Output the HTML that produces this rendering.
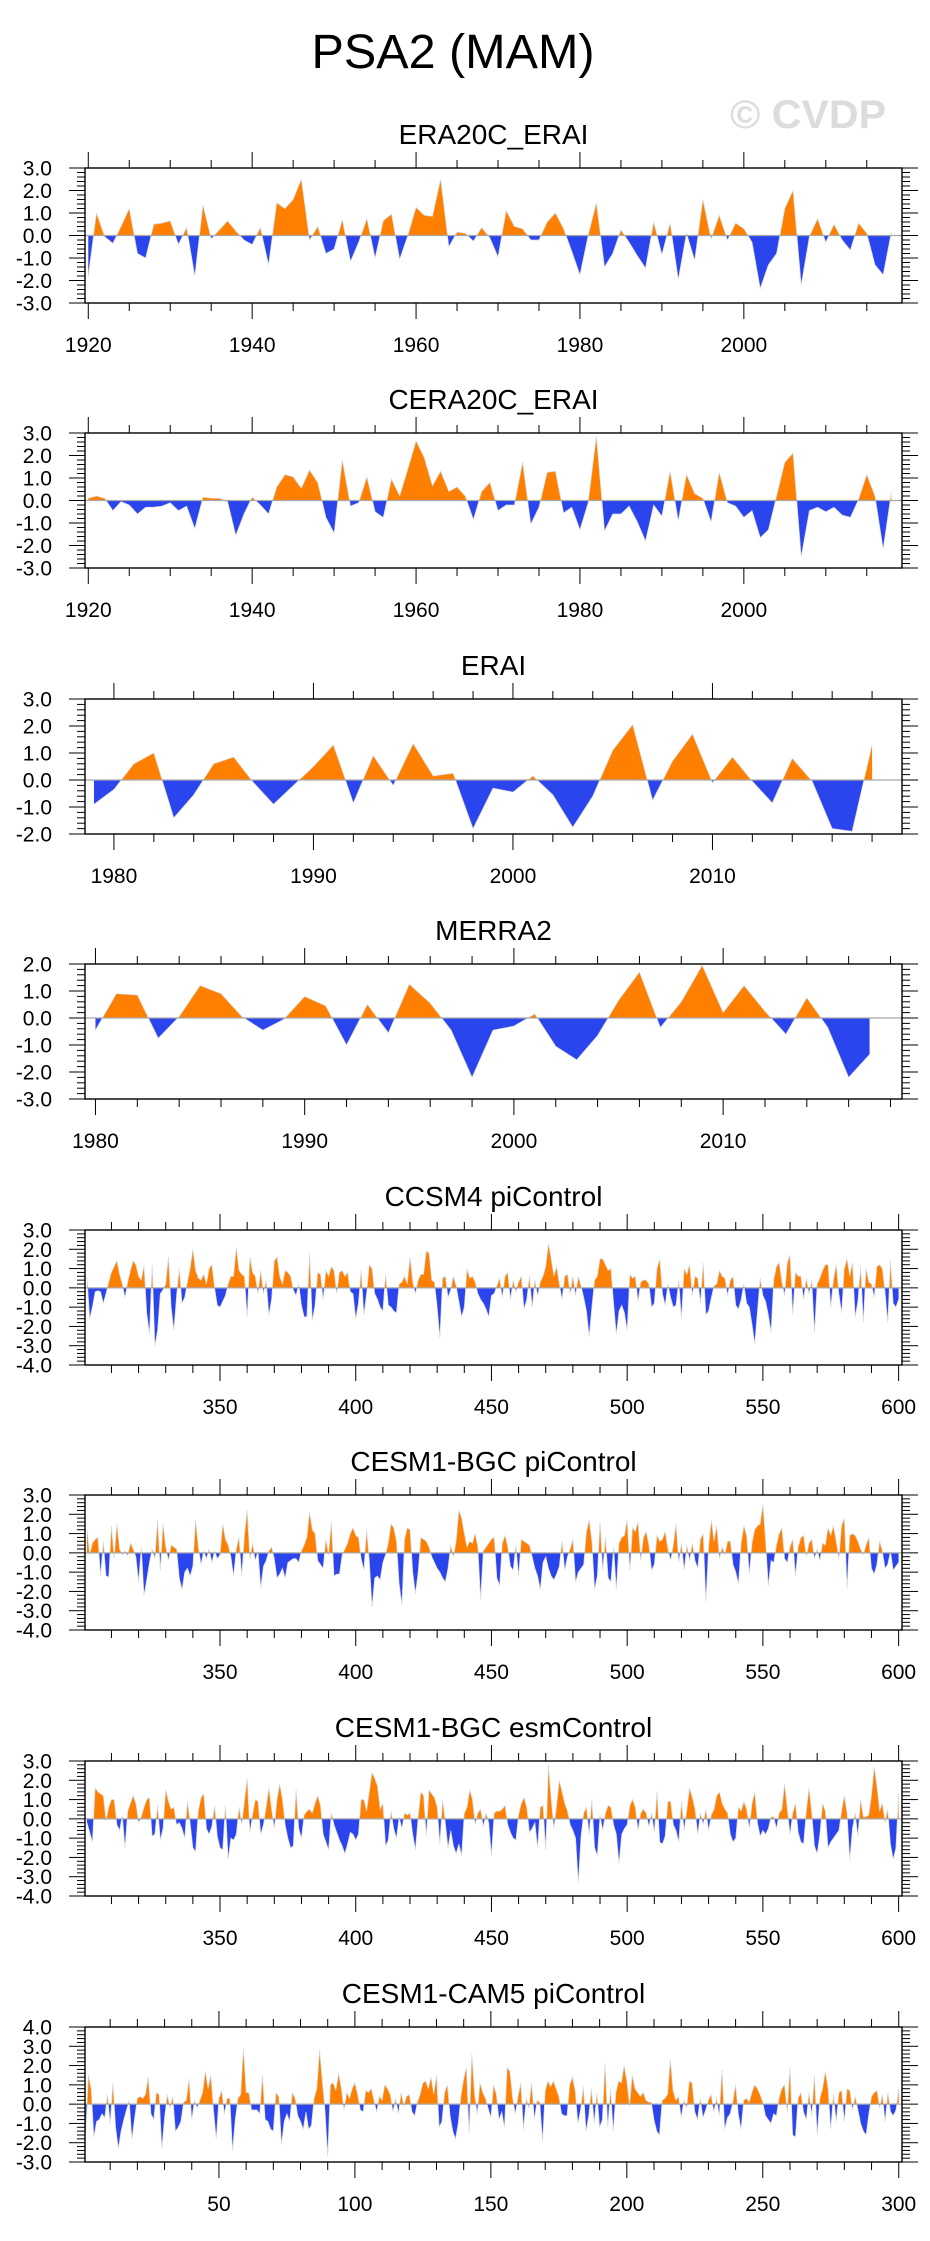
<!DOCTYPE html>
<html><head><meta charset="utf-8">
<style>
html,body{margin:0;padding:0;background:#fff;}
svg{display:block;font-family:"Liberation Sans",sans-serif;}
</style></head>
<body>
<svg id="fig" width="930" height="2241" viewBox="0 0 930 2241" xmlns="http://www.w3.org/2000/svg">
<rect x="0" y="0" width="930" height="2241" fill="#fff"/>
<text x="453" y="68" font-size="48" text-anchor="middle" textLength="283" lengthAdjust="spacingAndGlyphs">PSA2 (MAM)</text>
<text x="808" y="128" font-size="40" font-weight="bold" fill="#dcdcdc" text-anchor="middle" textLength="156" lengthAdjust="spacingAndGlyphs">© CVDP</text>
</svg>
<script>
// ---- data ----
const era20cYears = [1920, 2018];
const era20cValues = [-1.8,1.0,-0.05,-0.35,0.4,1.2,-0.8,-1.0,0.5,0.55,0.65,-0.4,0.35,-1.8,1.35,-0.15,0.25,0.65,0.2,-0.2,-0.4,0.35,-1.3,1.45,1.2,1.6,2.5,-0.2,0.4,-0.8,-0.6,0.7,-1.15,-0.3,0.75,-1.0,0.65,0.95,-1.05,0.0,1.25,0.9,0.85,2.5,-0.5,0.15,0.1,-0.25,0.35,-0.1,-0.95,1.1,0.4,0.3,-0.2,-0.2,0.6,1.0,0.3,-0.7,-1.75,0.0,1.45,-1.4,-0.8,0.25,-0.3,-0.9,-1.45,0.6,-0.85,0.55,-1.95,0.1,-1.1,1.6,-0.15,0.9,-0.2,0.55,0.3,-0.3,-2.35,-1.3,-0.8,1.2,2.0,-2.2,-0.05,0.75,-0.3,0.5,-0.2,-0.65,0.55,0.1,-1.3,-1.75,0.15];
const cera20cYears = [1920, 2018];
const cera20cValues = [0.1,0.2,0.1,-0.45,-0.05,-0.2,-0.6,-0.3,-0.3,-0.25,-0.1,-0.45,-0.25,-1.25,0.15,0.1,0.1,-0.05,-1.55,-0.6,0.15,-0.2,-0.6,0.6,1.15,1.05,0.55,1.35,0.8,-0.75,-1.45,1.8,-0.25,-0.1,1.05,-0.5,-0.75,0.95,0.2,1.4,2.65,1.9,0.65,1.3,0.4,0.6,0.2,-0.85,0.4,0.8,-0.45,-0.2,-0.2,1.7,-1.05,-0.3,1.25,1.3,-0.55,-0.3,-1.3,-0.1,2.85,-1.35,-0.6,-0.6,-0.25,-0.95,-1.8,-0.2,-0.7,1.3,-0.9,1.15,0.3,0.1,-0.95,1.25,-0.1,-0.25,-0.75,-0.45,-1.65,-1.3,0.2,1.7,2.1,-2.5,-0.45,-0.3,-0.5,-0.3,-0.65,-0.75,0.05,1.15,0.2,-2.15,0.35];
const eraiYears = [1979, 2018];
const eraiValues = [-0.9,-0.35,0.6,1.0,-1.4,-0.55,0.6,0.85,-0.1,-0.9,-0.2,0.5,1.3,-0.85,0.9,-0.2,1.35,0.15,0.25,-1.8,-0.3,-0.45,0.15,-0.55,-1.75,-0.6,1.1,2.05,-0.75,0.7,1.7,-0.1,0.85,-0.05,-0.85,0.8,-0.05,-1.8,-1.9,1.3];
const merra2Years = [1980, 2017];
const merra2Values = [-0.45,0.9,0.85,-0.75,0.05,1.2,0.9,0.05,-0.45,-0.05,0.8,0.45,-1.0,0.5,-0.55,1.25,0.55,-0.45,-2.2,-0.45,-0.3,0.15,-1.05,-1.55,-0.65,0.65,1.7,-0.35,0.6,1.95,0.2,1.2,0.25,-0.6,0.75,-0.35,-2.2,-1.35];
const ccsm4Years = [301, 600];
const ccsm4Values = [0.55,-1.6,-1.0,-0.2,-0.15,-0.2,-0.8,-0.3,0.3,0.8,
1.1,1.4,0.7,0.2,-0.5,0.3,0.9,1.4,1.2,0.6,
0.4,1.15,-1.3,-2.4,1.2,-3.0,-2.2,-0.3,-0.1,0.2,
1.6,-1.0,-2.2,-0.4,1.0,-0.8,-0.5,0.3,1.0,2.0,
0.9,0.5,0.4,0.7,0.2,1.0,1.2,0.0,-0.9,-1.0,
-0.7,-0.4,0.2,0.6,0.6,2.1,0.9,0.7,0.6,-1.5,
1.6,0.8,0.6,-0.3,0.9,-0.3,0.4,-1.4,-0.6,1.4,
1.6,0.6,0.2,0.9,0.8,0.6,-0.1,-0.4,0.2,-0.9,
-1.5,-1.5,1.8,-1.7,-0.9,0.8,0.7,-0.6,0.9,0.6,
1.1,0.9,-0.3,0.8,0.9,0.6,0.8,-0.2,-0.3,-1.6,
-0.8,0.9,-1.4,-0.3,1.2,1.0,-0.3,-0.6,-1.0,-1.2,
0.7,-0.9,-1.0,-1.2,-1.3,0.2,0.3,0.6,0.2,1.6,
0.3,-0.3,0.4,0.7,0.7,1.9,1.8,0.4,0.3,-1.0,
-2.6,0.5,0.6,-0.5,-0.1,0.6,0.1,-0.7,-1.5,-1.0,
1.0,0.5,0.6,0.3,-0.3,-0.6,-0.8,-1.1,-1.5,-0.4,
-0.3,0.1,0.5,-0.5,0.6,0.8,-0.6,0.4,-0.2,0.3,
0.6,-1.1,-0.6,0.6,-1.0,0.4,-0.4,0.3,0.6,1.1,
2.3,1.5,0.6,1.1,0.2,-0.6,0.6,0.7,-0.3,0.6,
-0.4,0.6,0.1,-0.5,-1.2,-2.5,-1.0,0.4,0.6,1.5,
1.5,1.2,0.9,1.0,-0.8,-2.4,-1.2,-0.9,-1.3,-2.2,
0.7,0.5,0.6,-0.7,0.3,0.4,0.4,0.2,-1.0,-0.8,
1.0,1.5,-0.3,-0.9,0.2,-0.5,-1.0,-0.9,0.4,-1.6,
1.0,0.7,1.2,-0.4,0.6,0.5,-0.8,1.3,-1.4,-1.2,
-0.5,0.1,0.2,0.9,0.6,0.5,-0.4,0.4,0.6,-0.9,
-1.1,-0.6,0.2,-0.8,-1.0,-1.9,-2.9,-1.2,0.5,-0.4,
-0.7,-1.4,-2.3,0.4,1.1,1.3,0.3,-0.4,1.3,1.7,
-1.4,0.8,0.6,0.6,-0.6,0.5,-0.3,0.4,-2.3,0.2,
0.5,0.9,1.2,1.2,-1.0,0.4,1.2,-0.3,-1.3,1.0,
1.5,0.6,1.3,-1.5,-0.7,1.1,-1.8,1.0,0.3,0.2,
-0.5,1.1,1.2,1.0,-0.2,-1.8,1.4,-0.8,-1.0,-0.6];
const bgcPiYears = [301, 600];
const bgcPiValues = [1.2,-0.1,0.5,0.7,0.8,-1.2,0.6,-1.2,-1.25,1.4,
-0.3,1.5,0.2,-0.1,0.1,-0.15,0.5,0.2,-0.2,-1.5,
0.3,-2.2,-1.4,-0.5,0.2,-0.3,1.7,-0.9,1.5,0.3,
-0.4,0.4,0.3,0.2,-1.3,-1.9,-1.0,-0.8,-1.2,-0.7,
1.7,0.3,-0.6,0.1,-0.3,0.2,-0.5,0.1,-0.3,-0.1,
1.5,0.7,0.4,-0.2,-1.2,0.2,0.8,-1.2,0.9,2.2,
-0.3,0.5,-0.4,0.1,-1.8,-0.7,-0.4,0.1,0.3,-0.3,
-1.3,-1.1,-0.8,-1.3,-0.5,-0.4,-0.3,-0.3,-0.5,0.1,
0.4,0.8,2.1,1.2,1.0,-0.4,-0.6,-0.8,0.7,-0.1,
1.6,-1.2,-1.1,-1.1,-0.1,0.2,0.5,1.0,1.3,0.9,
0.8,-0.3,-0.9,1.2,-0.4,-2.8,-1.3,-1.2,-1.4,-0.5,
-0.1,0.5,1.5,1.3,0.6,-1.6,-2.7,0.7,1.3,1.2,
-1.0,-2.1,-1.0,0.8,0.7,0.6,0.3,-0.2,-0.5,-0.8,
-1.0,-1.3,-1.5,-0.8,0.4,-0.2,0.6,2.2,1.8,1.0,
0.3,0.6,0.5,1.0,0.3,-2.4,0.1,0.3,0.5,0.7,
0.8,-1.3,-1.7,0.5,0.9,0.3,-0.7,-0.9,0.4,-1.2,
0.7,0.6,0.5,0.4,-0.2,-0.8,-1.2,-1.9,-0.5,-0.2,
-0.8,-1.2,-1.4,-1.1,-0.7,0.6,-0.9,-0.2,0.2,0.7,
-1.5,-1.0,-0.8,-0.6,1.1,1.7,0.6,-1.9,-1.2,1.6,
-0.9,0.8,-1.3,-1.5,0.3,-1.9,0.5,0.8,0.9,1.7,
-0.9,1.3,1.1,1.6,-0.4,0.8,1.1,0.4,-0.9,-0.6,
0.9,0.6,0.7,1.1,0.2,-0.4,0.4,1.5,-0.5,0.5,
-0.9,0.4,-0.4,0.5,-0.4,-0.8,0.7,1.0,-2.5,0.3,
1.7,0.6,1.4,-0.3,0.3,-0.1,0.6,0.6,-0.6,-1.0,
-1.6,0.5,1.4,0.9,-1.1,0.5,1.2,1.4,1.5,2.5,
0.6,-1.7,-0.4,-0.5,0.4,1.0,1.3,-0.3,-0.5,0.3,
0.7,-1.2,0.3,0.8,0.9,-0.2,0.5,0.7,-0.3,0.2,
-0.4,0.5,0.4,1.3,0.9,1.4,0.6,-0.3,1.4,1.8,
-1.8,0.9,1.0,0.9,0.6,0.2,-0.1,0.4,0.8,-0.8,
-1.1,-0.6,0.6,0.1,-0.8,-0.6,0.1,-0.9,-0.7,-0.5];
const bgcEsmYears = [301, 600];
const bgcEsmValues = [-0.2,-0.7,-1.2,1.6,1.4,1.3,1.2,-0.1,0.6,1.0,
1.0,-0.3,-0.6,0.2,-1.5,0.4,0.8,1.2,0.8,-0.2,
0.1,0.6,1.0,1.1,-0.9,-0.8,0.7,-1.1,-0.5,1.5,
0.9,0.5,0.6,-0.3,-0.2,-0.5,-1.0,0.9,-0.2,-1.5,
-1.7,0.4,1.1,1.3,-0.5,-0.8,-0.4,0.7,-0.9,-1.5,
-1.6,0.7,-2.1,-1.0,-1.1,-0.8,0.6,-0.3,0.9,2.1,
-0.7,0.2,1.0,0.9,-0.8,-0.3,0.6,1.6,0.5,-0.5,
1.0,1.8,1.0,-0.3,-1.0,-1.5,-1.4,1.5,-0.5,-1.0,
0.2,0.4,0.5,0.3,0.8,1.2,0.7,-0.8,-1.2,-1.6,
0.3,-0.3,-0.7,-1.1,-1.4,-1.8,-1.3,-0.7,-0.8,-1.1,
-0.8,1.0,1.0,0.4,1.4,2.4,2.1,1.7,0.5,0.8,
-1.4,-1.1,0.4,-0.5,-1.0,0.1,-0.5,0.3,0.2,0.3,
-0.8,-1.6,0.1,1.4,1.2,-0.9,1.5,1.3,1.1,0.6,
-1.3,1.0,-0.2,-1.5,-0.6,-1.4,-1.8,-1.3,-1.9,0.3,
0.6,1.5,1.0,-0.3,0.3,0.5,-0.4,0.3,-0.2,-1.9,
0.3,0.4,0.4,0.5,0.7,-0.3,-0.7,-1.0,-1.1,0.2,
0.8,1.1,0.6,-0.7,-0.5,-0.2,-1.5,0.6,0.7,-1.6,
2.8,1.0,-0.5,0.7,2.0,1.4,0.8,0.4,-0.3,-0.6,
-1.0,-3.3,-0.9,0.3,0.6,-0.8,1.0,-1.5,-1.9,0.2,
-0.6,0.3,0.7,0.6,-0.3,-0.8,-2.3,-0.8,-0.5,-0.3,
0.7,1.0,0.6,-0.6,0.3,0.5,0.3,-0.4,0.3,-0.7,
1.4,-1.2,-1.3,-0.9,0.9,0.9,-0.3,-0.6,-1.2,0.9,
-0.6,0.5,1.6,1.1,0.5,-0.8,0.3,-0.3,0.5,-0.6,
0.2,0.5,1.2,1.4,0.8,0.5,0.3,-0.8,-1.2,-1.0,
0.6,0.4,0.9,0.5,-0.5,0.8,1.4,-0.2,-0.9,-0.6,
-0.8,-0.5,0.1,0.1,-0.5,0.3,0.5,1.8,0.5,-0.8,
0.3,0.8,-0.7,-1.2,-1.3,0.4,1.6,0.3,-1.4,-1.8,
-0.8,0.8,0.4,-1.5,-1.2,-1.0,-0.8,-0.6,0.4,1.2,
0.3,-2.1,-0.5,0.3,-0.9,1.0,0.1,0.1,0.2,1.2,
2.7,1.7,0.4,0.8,-0.2,0.5,-1.3,-2.1,-1.5,1.3];
const cam5Years = [1, 300];
const cam5Values = [-1.5,1.5,0.8,-1.7,-0.9,-0.8,-0.5,-0.7,0.5,-1.0,
1.1,-1.2,-2.3,-1.4,-0.8,-0.3,0.2,-1.8,-0.7,0.3,
0.4,0.3,0.5,1.4,-0.5,-0.8,0.6,0.5,-2.3,-0.7,
0.5,-0.2,0.4,-1.4,-1.2,-0.9,0.1,0.2,1.3,-0.8,
0.2,-0.2,0.2,0.6,1.7,0.8,1.5,-0.3,-1.8,0.3,
0.7,-0.5,0.3,0.3,-2.4,-0.8,0.3,0.5,2.9,0.6,
0.6,-0.3,-0.3,-0.3,-0.5,1.5,-0.8,-0.9,-1.3,-1.4,
0.6,0.4,-2.1,-0.9,-0.5,-0.9,0.6,0.3,-0.6,-0.9,
-1.3,-0.4,-1.3,-1.1,0.3,0.8,2.8,1.2,-0.3,-2.7,
1.0,1.1,0.7,1.6,0.8,-0.3,0.6,0.3,0.8,1.1,
0.5,-0.3,-0.4,0.7,0.6,0.8,0.2,-0.4,0.4,0.2,
1.0,0.8,0.5,-0.4,0.3,-0.5,0.6,-0.1,0.4,0.5,
-0.4,-0.6,0.1,0.5,1.1,1.2,0.8,1.4,0.5,1.5,
-1.2,-0.9,0.6,1.0,-0.6,-1.4,-1.8,-1.0,0.4,1.3,
1.9,-1.5,2.6,0.5,-0.5,1.1,0.6,0.3,-0.2,-0.7,
1.0,0.5,-0.8,-0.4,-1.2,1.9,1.7,0.3,-0.5,0.4,
1.1,-1.3,0.3,-0.2,1.1,-0.8,0.2,0.1,-1.9,0.7,
1.2,0.9,1.2,0.8,0.4,-0.5,-0.6,-0.6,1.0,1.4,
0.7,-1.0,-0.3,0.9,-1.4,-0.6,0.8,-1.0,0.6,-1.2,
-0.8,2.1,-1.2,0.8,-1.4,0.6,1.2,1.1,2.0,1.2,
-0.1,1.5,0.8,0.6,0.4,0.6,0.2,0.1,0.1,-0.8,
-1.4,-1.6,0.2,0.3,0.5,2.3,0.7,0.2,0.4,-0.7,
0.2,-0.2,1.2,1.1,-0.4,-0.8,0.3,-0.7,-0.3,0.2,
0.5,-0.4,0.3,-0.6,1.8,-1.3,-0.7,-0.5,0.1,1.0,
-0.5,-1.3,0.2,0.3,0.1,0.6,1.0,0.8,0.5,0.1,
-0.6,-0.8,-1.0,-0.5,-0.6,0.3,0.8,1.0,-0.4,1.9,
-1.6,-1.7,0.3,0.6,-0.4,-0.8,0.6,-0.6,1.5,-1.6,
0.3,0.8,1.7,0.8,-1.3,0.5,-0.9,0.6,0.7,-0.9,
0.8,0.7,-0.3,0.4,-0.3,-1.0,-1.4,-1.6,-0.5,0.4,
0.6,0.7,-0.2,0.5,-0.9,0.6,-0.4,-0.6,-0.3,0.8];
const yTicks35 = ["-3.0","-2.0","-1.0","0.0","1.0","2.0","3.0"];
const yTicks25 = ["-2.0","-1.0","0.0","1.0","2.0","3.0"];
const yTicks32 = ["-3.0","-2.0","-1.0","0.0","1.0","2.0"];
const yTicks43 = ["-4.0","-3.0","-2.0","-1.0","0.0","1.0","2.0","3.0"];
const yTicks34 = ["-3.0","-2.0","-1.0","0.0","1.0","2.0","3.0","4.0"];
const xTicks20 = [1920,1940,1960,1980,2000];
const xTicks10 = [1980,1990,2000,2010];
const xTicksPi = [350,400,450,500,550,600];
const xTicksCam = [50,100,150,200,250,300];

// ---- layout ----
const NS = "http://www.w3.org/2000/svg";
const svg = document.getElementById("fig");
const L = 85, R = 902, H = 135;
function mk(tag, attrs, parent) {
  const e = document.createElementNS(NS, tag);
  for (const k in attrs) e.setAttribute(k, attrs[k]);
  (parent || svg).appendChild(e);
  return e;
}
const panels = [
  {key:"era20c-erai", title:"ERA20C_ERAI", top:168, years:era20cYears, vals:era20cValues, xr:[1919.6,2019.3], yr:[-3,3], yt:yTicks35, xt:xTicks20, xminor:5},
  {key:"cera20c-erai", title:"CERA20C_ERAI", top:433, years:cera20cYears, vals:cera20cValues, xr:[1919.6,2019.3], yr:[-3,3], yt:yTicks35, xt:xTicks20, xminor:5},
  {key:"erai", title:"ERAI", top:699, years:eraiYears, vals:eraiValues, xr:[1978.55,2019.5], yr:[-2,3], yt:yTicks25, xt:xTicks10, xminor:2},
  {key:"merra2", title:"MERRA2", top:964, years:merra2Years, vals:merra2Values, xr:[1979.5,2018.55], yr:[-3,2], yt:yTicks32, xt:xTicks10, xminor:2},
  {key:"ccsm4-picontrol", title:"CCSM4 piControl", top:1230, years:ccsm4Years, vals:ccsm4Values, xr:[300.26,601.25], yr:[-4,3], yt:yTicks43, xt:xTicksPi, xminor:10},
  {key:"cesm1-bgc-picontrol", title:"CESM1-BGC piControl", top:1495, years:bgcPiYears, vals:bgcPiValues, xr:[300.26,601.25], yr:[-4,3], yt:yTicks43, xt:xTicksPi, xminor:10},
  {key:"cesm1-bgc-esmcontrol", title:"CESM1-BGC esmControl", top:1761, years:bgcEsmYears, vals:bgcEsmValues, xr:[300.26,601.25], yr:[-4,3], yt:yTicks43, xt:xTicksPi, xminor:10},
  {key:"cesm1-cam5-picontrol", title:"CESM1-CAM5 piControl", top:2027, years:cam5Years, vals:cam5Values, xr:[0.74,301.2], yr:[-3,4], yt:yTicks34, xt:xTicksCam, xminor:10}
];

panels.forEach(p => {
  const g = mk("g", {});
  
  
  const T = p.top, B = p.top + H;
  const xs = v => L + (v - p.xr[0]) / (p.xr[1] - p.xr[0]) * (R - L);
  const ys = v => B - (v - p.yr[0]) / (p.yr[1] - p.yr[0]) * H;
  const t = mk("text", {x:493.5, y:T-24, "font-size":28, "text-anchor":"middle"}, g);
  
  
  t.textContent = p.title;

  // build points with zero crossings
  const pts = [];
  for (let i = 0; i < p.vals.length; i++) {
    const x = p.years[0] + i, v = p.vals[i];
    if (i > 0) {
      const pv = p.vals[i-1];
      if ((pv > 0 && v < 0) || (pv < 0 && v > 0)) {
        const f = pv / (pv - v);
        pts.push([x - 1 + f, 0]);
      }
    }
    pts.push([x, v]);
  }
  const x0 = p.years[0], x1 = p.years[0] + p.vals.length - 1;
  function poly(fn) {
    let d = "M" + xs(x0).toFixed(2) + "," + ys(0).toFixed(2);
    pts.forEach(q => { d += "L" + xs(q[0]).toFixed(2) + "," + ys(fn(q[1])).toFixed(2); });
    d += "L" + xs(x1).toFixed(2) + "," + ys(0).toFixed(2) + "Z";
    return d;
  }
  const pos = mk("path", {d:poly(v => Math.max(v,0)), fill:"#ff8000", stroke:"none"}, g);
  
  
  const neg = mk("path", {d:poly(v => Math.min(v,0)), fill:"#2a45ee", stroke:"none"}, g);
  
  
  let ld = "";
  p.vals.forEach((v, i) => { ld += (i ? "L" : "M") + xs(x0 + i).toFixed(2) + "," + ys(v).toFixed(2); });
  const line = mk("path", {d:ld, fill:"none", stroke:"#d8d8d8", "stroke-width":0.7}, g);
  
  
  const zl = mk("line", {x1:L, x2:R, y1:ys(0), y2:ys(0), stroke:"#a8a8a8", "stroke-width":1.2}, g);
  
  

  const fr = mk("rect", {x:L, y:T, width:R-L, height:H, fill:"none", stroke:"#000", "stroke-width":1.4}, g);
  
  

  // y ticks
  const yax = mk("g", {stroke:"#000", "stroke-width":1}, g);
  
  
  for (let v = p.yr[0]; v <= p.yr[1] + 1e-6; v += 0.2) {
    const major = Math.abs(v - Math.round(v)) < 1e-6;
    const y = ys(v), len = major ? 16 : 8;
    mk("line", {x1:L-len, x2:L, y1:y, y2:y}, yax);
    mk("line", {x1:R, x2:R+len, y1:y, y2:y}, yax);
  }
  p.yt.forEach(lab => {
    const tx = mk("text", {x:52, y:ys(parseFloat(lab))+7.5, "font-size":21, "text-anchor":"end", stroke:"none"}, g);
    
    
    tx.textContent = lab;
  });
  // x ticks
  const xax = mk("g", {stroke:"#000", "stroke-width":1}, g);
  
  
  const majStep = p.xt[1] - p.xt[0];
  const start = Math.ceil(p.xr[0] / p.xminor) * p.xminor;
  for (let v = start; v <= p.xr[1]; v += p.xminor) {
    const major = (v - p.xt[0]) % majStep === 0;
    const x = xs(v), len = major ? 16 : 8;
    mk("line", {x1:x, x2:x, y1:T-len, y2:T}, xax);
    mk("line", {x1:x, x2:x, y1:B, y2:B+len}, xax);
  }
  p.xt.forEach(v => {
    const tx = mk("text", {x:xs(v), y:B+49, "font-size":21, "text-anchor":"middle"}, g);
    
    
    tx.textContent = v;
  });
});
</script>
</body></html>
